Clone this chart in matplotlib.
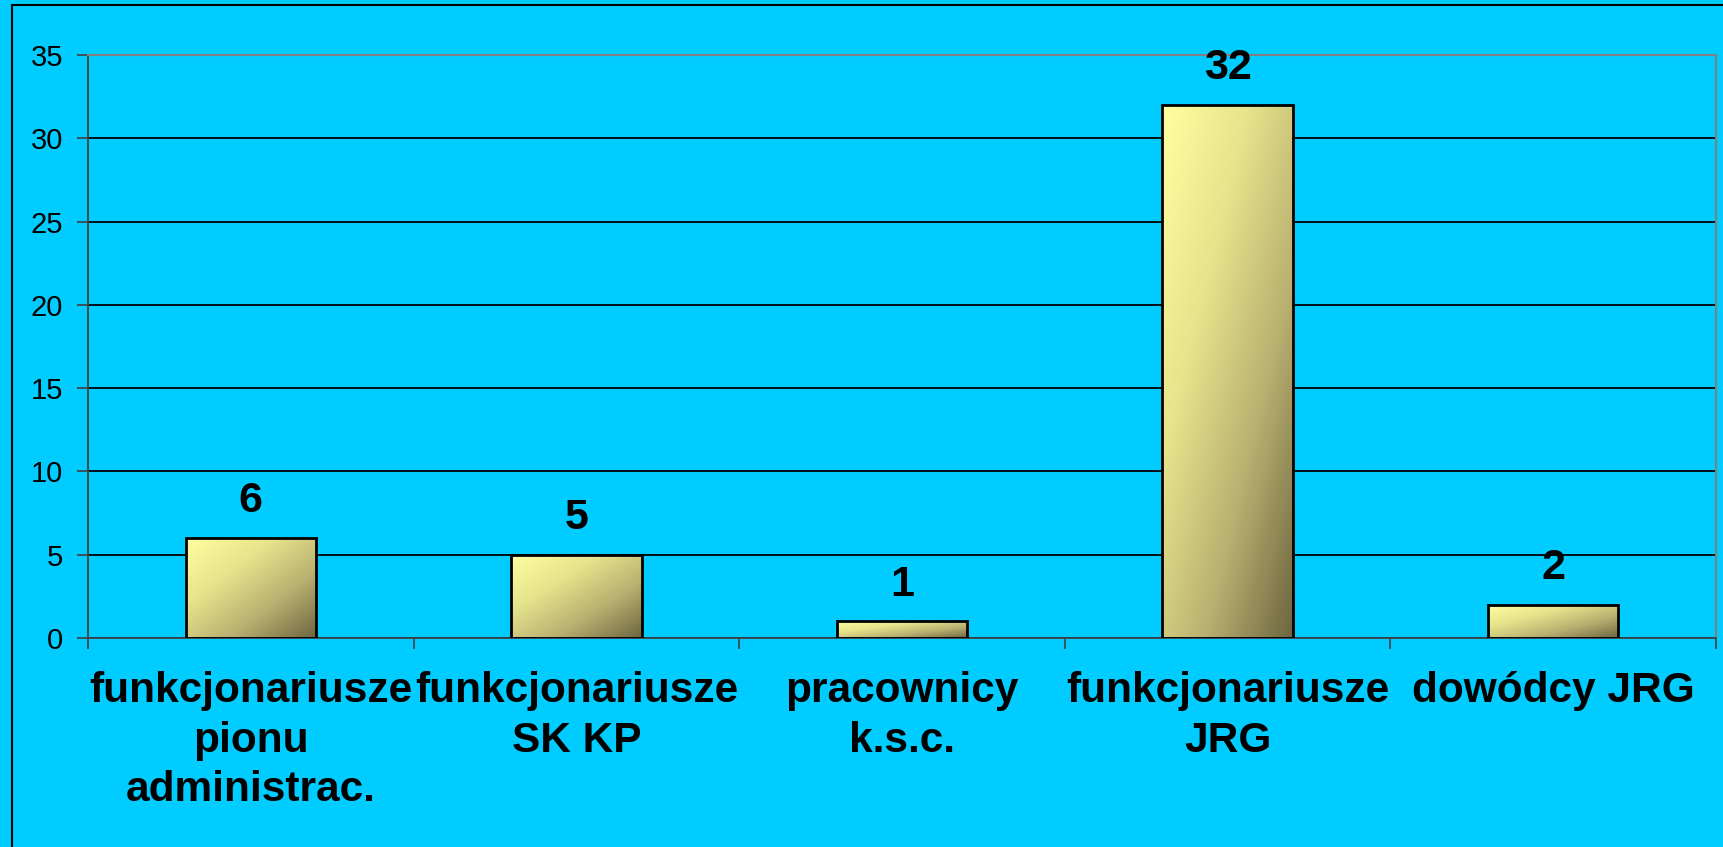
import matplotlib.pyplot as plt
import numpy as np
from matplotlib.colors import LinearSegmentedColormap
from matplotlib.patches import Rectangle

categories = [
    "funkcjonariusze\npionu\nadministrac.",
    "funkcjonariusze\nSK KP",
    "pracownicy\nk.s.c.",
    "funkcjonariusze\nJRG",
    "dowódcy JRG",
]
values = [6, 5, 1, 32, 2]
y_ticks = [0, 5, 10, 15, 20, 25, 30, 35]

plt.rcParams["font.family"] = ["Liberation Sans", "DejaVu Sans"]

bg = "#00CCFF"
fig = plt.figure(figsize=(17.23, 8.47), dpi=100, facecolor=bg)
ax = fig.add_axes([88 / 1723, 1 - 638 / 847, (1716 - 88) / 1723, (638 - 55) / 847])
ax.set_facecolor(bg)

# outer frame (left and top edges visible)
fig.patches.append(Rectangle((12 / 1723, -0.1), 1.2, 1 - 5 / 847 + 0.1,
                             transform=fig.transFigure, fill=False,
                             edgecolor="black", linewidth=1.5, clip_on=False))

x = np.arange(len(values))
width = 0.40
bars = ax.bar(x, values, width=width, color="none", edgecolor="black",
              linewidth=2, zorder=3)

cmap = LinearSegmentedColormap.from_list(
    "bar", ["#FFFFA0", "#E6E48C", "#B8B070", "#6E6640"])
u, v = np.meshgrid(np.linspace(0, 1, 100), np.linspace(0, 1, 100))
grad = (u + v) / 2
for b in bars:
    x0, y0 = b.get_x(), b.get_y()
    w, h = b.get_width(), b.get_height()
    im = ax.imshow(grad, cmap=cmap, extent=[x0, x0 + w, y0, y0 + h],
                   aspect="auto", zorder=2, interpolation="bilinear")
    im.set_clip_path(b)

for xi, val in zip(x, values):
    ax.annotate(str(val), (xi, val), xytext=(0, 12), textcoords="offset points",
                ha="center", va="bottom", fontsize=31, fontweight="bold")

ax.set_xlim(-0.5, len(values) - 0.5)
ax.set_ylim(0, 35)
ax.set_yticks(y_ticks)
ax.tick_params(axis="y", length=8, width=1.2, color="#404040",
               labelsize=21, pad=10)
ax.yaxis.grid(True, color="black", linewidth=1.3, zorder=1)
ax.set_axisbelow(True)

ax.set_xticks(x)
ax.set_xticklabels(categories, fontsize=30.5, fontweight="bold",
                   linespacing=1.3)
ax.tick_params(axis="x", which="major", length=0, pad=24)
ax.set_xticks(np.arange(len(values) + 1) - 0.5, minor=True)
ax.tick_params(axis="x", which="minor", length=8, width=1.2, color="#404040")

for side in ["left", "bottom"]:
    ax.spines[side].set_color("#404040")
    ax.spines[side].set_linewidth(1.3)
for side in ["top", "right"]:
    ax.spines[side].set_color("#808080")
    ax.spines[side].set_linewidth(1.5)

fig.savefig("out.png", dpi=100, facecolor=bg)
